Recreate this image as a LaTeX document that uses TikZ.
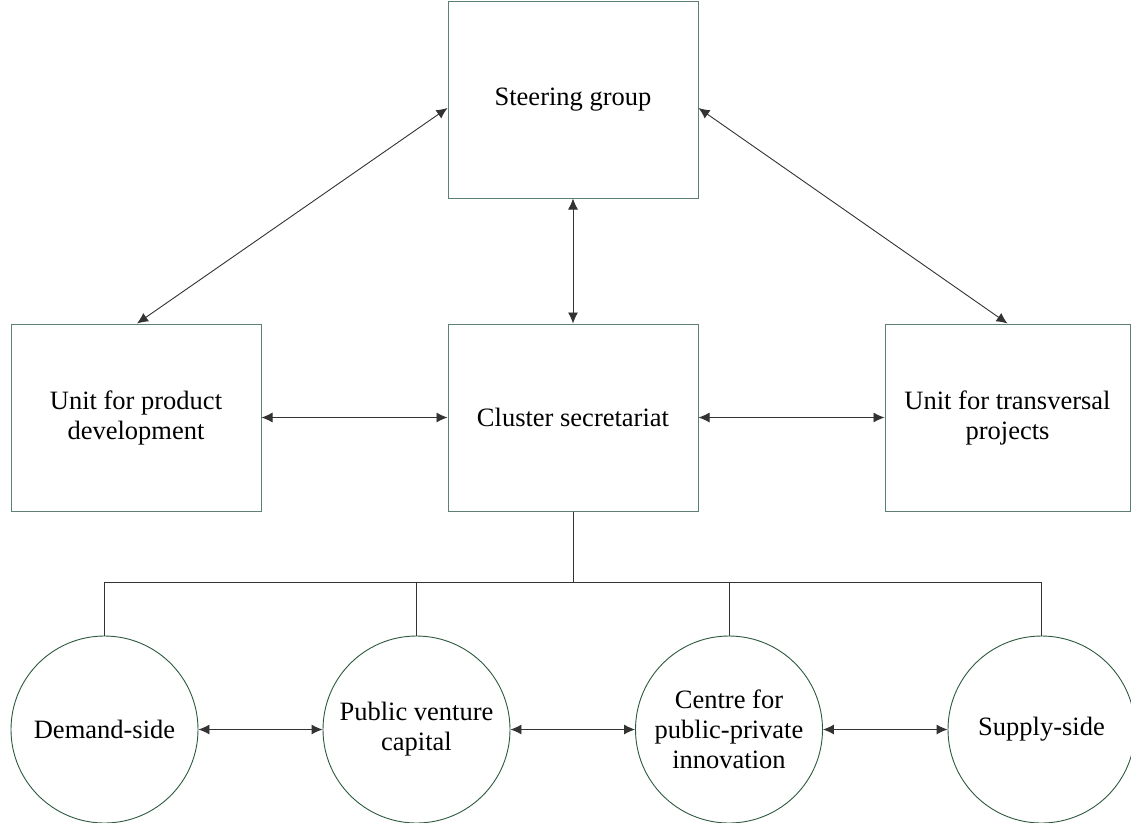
\documentclass[tikz,border=0pt]{standalone}
\usepackage{fontspec}
\setmainfont{Liberation Serif}
\usetikzlibrary{arrows.meta}
\definecolor{boxgreen}{HTML}{5E8070}
\definecolor{circgreen}{HTML}{2E5A3E}
\definecolor{linegray}{HTML}{333333}
\begin{document}
\begin{tikzpicture}[x=1pt,y=-1pt,
  every node/.style={font=\fontsize{26.5}{30}\selectfont, align=center, inner sep=0pt},
  unitbox/.style={draw=boxgreen, line width=1pt, fill=white},
  orgcirc/.style={draw=circgreen, line width=0.9pt, circle, minimum size=187pt, fill=white},
  conn/.style={draw=linegray, line width=0.9pt},
  biarrow/.style={conn, {Latex[length=11pt,width=10pt]}-{Latex[length=11pt,width=10pt]}}
]
\useasboundingbox (0,0) rectangle (1131,822);
\fill[white] (0,0) rectangle (1131,822);
% boxes
\node[unitbox, minimum width=250pt, minimum height=197pt] (steer) at (573,99.5) {Steering group};
\node[unitbox, minimum width=250pt, minimum height=187pt] (prod) at (136,417.5) {Unit for product\\development};
\node[unitbox, minimum width=250pt, minimum height=187pt] (clus) at (573,417.5) {Cluster secretariat};
\node[unitbox, minimum width=245pt, minimum height=187pt] (trans) at (1007.5,417.5) {Unit for transversal\\projects};
% circles
\node[orgcirc] (dem) at (104.5,729.5) {Demand-side};
\node[orgcirc] (pvc) at (416.5,729.5) {Public venture\\capital};
\node[orgcirc] (cent) at (729,729.5) {Centre for\\public-private\\innovation};
\node[orgcirc] (sup) at (1041.5,729.5) {Supply-side};
% tree
\coordinate (bus) at (573,582);
\draw[conn] (clus.south) -- (bus);
\draw[conn] (dem.north) |- (sup.north |- bus) -- (sup.north);
\draw[conn] (pvc.north) -- (pvc.north |- bus);
\draw[conn] (cent.north) -- (cent.north |- bus);
% arrows
\draw[biarrow] (prod.north) ++(1,0) coordinate (pn) (pn) -- (steer.west |- 0,108);
\draw[biarrow] (steer.east |- 0,108) -- (trans.north);
\draw[biarrow] (steer.south) -- (clus.north);
\draw[biarrow] (prod.east) -- (clus.west);
\draw[biarrow] (clus.east) -- (trans.west);
\draw[biarrow] (dem.east) -- (pvc.west);
\draw[biarrow] (pvc.east) -- (cent.west);
\draw[biarrow] (cent.east) -- (sup.west);
\end{tikzpicture}
\end{document}
